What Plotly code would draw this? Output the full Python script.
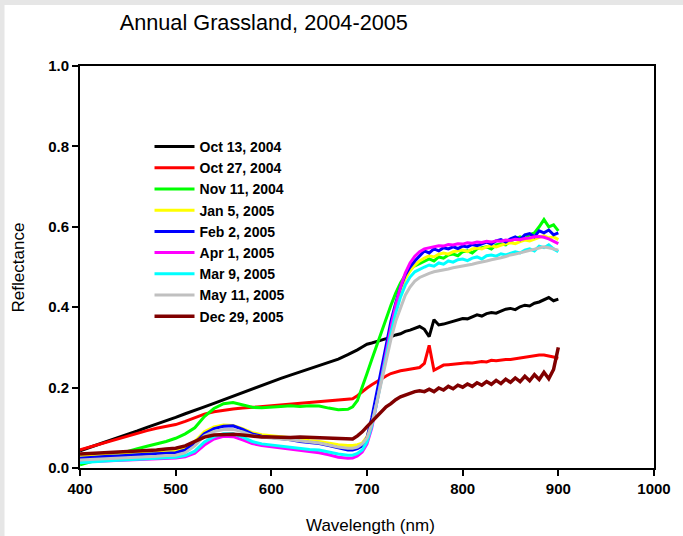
import plotly.graph_objects as go

wavelength = [400, 410, 420, 430, 440, 450, 460, 470, 480, 490, 500, 510, 520, 530, 540, 550, 560, 570, 580, 590,
              600, 610, 620, 630, 640, 650, 660, 670, 680, 685, 690, 695, 700, 705, 710, 715, 720, 725, 730, 735,
              740, 745, 750, 755, 760, 765, 770, 775, 780, 785, 790, 795, 800, 805, 810, 815, 820, 825, 830, 835,
              840, 845, 850, 855, 860, 865, 870, 875, 880, 885, 890, 895, 900]

oct13_2004 = [0.043, 0.051, 0.059, 0.067, 0.075, 0.084, 0.092, 0.101, 0.109, 0.117, 0.126, 0.135, 0.143, 0.152, 0.161, 0.170, 0.179, 0.188, 0.197, 0.206,
              0.215, 0.223, 0.231, 0.239, 0.247, 0.255, 0.263, 0.271, 0.282, 0.287, 0.294, 0.301, 0.308, 0.311, 0.314, 0.318, 0.322, 0.327, 0.331, 0.334,
              0.340, 0.343, 0.347, 0.352, 0.345, 0.327, 0.369, 0.356, 0.358, 0.362, 0.365, 0.368, 0.372, 0.371, 0.376, 0.381, 0.378, 0.384, 0.387, 0.385,
              0.390, 0.395, 0.397, 0.394, 0.401, 0.405, 0.403, 0.410, 0.413, 0.418, 0.424, 0.416, 0.420]

oct27_2004 = [0.045, 0.052, 0.059, 0.066, 0.073, 0.080, 0.087, 0.093, 0.099, 0.104, 0.108, 0.116, 0.126, 0.134, 0.140, 0.144, 0.147, 0.149, 0.151, 0.153,
              0.155, 0.157, 0.159, 0.161, 0.163, 0.165, 0.167, 0.169, 0.170, 0.172, 0.180, 0.190, 0.199, 0.207, 0.215, 0.223, 0.229, 0.235, 0.239, 0.242,
              0.244, 0.246, 0.247, 0.250, 0.260, 0.305, 0.243, 0.250, 0.256, 0.257, 0.258, 0.260, 0.261, 0.262, 0.261, 0.263, 0.265, 0.264, 0.268, 0.267,
              0.269, 0.270, 0.270, 0.272, 0.274, 0.276, 0.277, 0.279, 0.281, 0.281, 0.279, 0.276, 0.273]

nov11_2004 = [0.008, 0.015, 0.022, 0.028, 0.035, 0.042, 0.048, 0.054, 0.060, 0.066, 0.074, 0.085, 0.100, 0.128, 0.148, 0.160, 0.163, 0.157, 0.151, 0.150,
              0.151, 0.153, 0.155, 0.153, 0.155, 0.154, 0.149, 0.145, 0.146, 0.152, 0.168, 0.200, 0.235, 0.270, 0.305, 0.340, 0.370, 0.405, 0.435, 0.460,
              0.480, 0.495, 0.503, 0.508, 0.515, 0.520, 0.515, 0.525, 0.522, 0.530, 0.532, 0.528, 0.538, 0.540, 0.535, 0.545, 0.548, 0.550, 0.545, 0.555,
              0.558, 0.555, 0.565, 0.570, 0.575, 0.570, 0.580, 0.585, 0.600, 0.618, 0.600, 0.605, 0.590]

jan5_2005 = [0.028, 0.029, 0.031, 0.032, 0.033, 0.035, 0.036, 0.037, 0.038, 0.040, 0.042, 0.050, 0.066, 0.090, 0.102, 0.107, 0.106, 0.098, 0.088, 0.083,
             0.080, 0.078, 0.075, 0.072, 0.068, 0.066, 0.062, 0.058, 0.056, 0.056, 0.058, 0.062, 0.078, 0.120, 0.175, 0.235, 0.295, 0.350, 0.400, 0.440,
             0.470, 0.490, 0.505, 0.515, 0.522, 0.528, 0.525, 0.532, 0.535, 0.532, 0.538, 0.540, 0.542, 0.538, 0.545, 0.547, 0.545, 0.550, 0.553, 0.550,
             0.555, 0.558, 0.560, 0.558, 0.563, 0.567, 0.565, 0.570, 0.575, 0.578, 0.572, 0.575, 0.568]

feb2_2005 = [0.024, 0.026, 0.028, 0.029, 0.030, 0.032, 0.033, 0.034, 0.035, 0.036, 0.038, 0.045, 0.062, 0.085, 0.098, 0.104, 0.105, 0.096, 0.085, 0.079,
             0.076, 0.074, 0.070, 0.066, 0.063, 0.061, 0.056, 0.050, 0.045, 0.045, 0.048, 0.055, 0.075, 0.125, 0.185, 0.250, 0.310, 0.365, 0.410, 0.450,
             0.480, 0.500, 0.515, 0.528, 0.540, 0.535, 0.545, 0.540, 0.548, 0.545, 0.550, 0.546, 0.552, 0.550, 0.556, 0.553, 0.558, 0.562, 0.557, 0.565,
             0.568, 0.562, 0.570, 0.575, 0.568, 0.580, 0.583, 0.575, 0.590, 0.585, 0.592, 0.580, 0.585]

apr1_2005 = [0.015, 0.016, 0.017, 0.018, 0.019, 0.020, 0.021, 0.022, 0.023, 0.024, 0.025, 0.028, 0.037, 0.057, 0.072, 0.079, 0.078, 0.070, 0.061, 0.056,
             0.053, 0.050, 0.046, 0.043, 0.040, 0.038, 0.033, 0.027, 0.024, 0.025, 0.030, 0.040, 0.060, 0.100, 0.160, 0.225, 0.290, 0.350, 0.405, 0.450,
             0.485, 0.510, 0.527, 0.538, 0.545, 0.548, 0.550, 0.553, 0.552, 0.556, 0.555, 0.558, 0.557, 0.560, 0.559, 0.562, 0.561, 0.564, 0.562, 0.565,
             0.564, 0.567, 0.566, 0.569, 0.568, 0.571, 0.572, 0.575, 0.576, 0.574, 0.570, 0.563, 0.558]

mar9_2005 = [0.013, 0.015, 0.016, 0.018, 0.019, 0.021, 0.022, 0.023, 0.024, 0.026, 0.027, 0.031, 0.042, 0.065, 0.078, 0.085, 0.085, 0.077, 0.066, 0.060,
             0.057, 0.054, 0.051, 0.048, 0.046, 0.045, 0.040, 0.035, 0.032, 0.032, 0.036, 0.045, 0.065, 0.105, 0.160, 0.220, 0.280, 0.335, 0.385, 0.425,
             0.455, 0.475, 0.488, 0.495, 0.500, 0.505, 0.502, 0.510, 0.507, 0.515, 0.512, 0.518, 0.520, 0.516, 0.522, 0.525, 0.520, 0.528, 0.530, 0.527,
             0.533, 0.530, 0.535, 0.538, 0.535, 0.542, 0.545, 0.540, 0.552, 0.548, 0.555, 0.545, 0.538]

may11_2005 = [0.020, 0.021, 0.022, 0.024, 0.025, 0.026, 0.027, 0.028, 0.029, 0.031, 0.032, 0.038, 0.055, 0.080, 0.091, 0.096, 0.096, 0.090, 0.081, 0.077,
              0.074, 0.072, 0.070, 0.067, 0.065, 0.062, 0.057, 0.052, 0.049, 0.049, 0.052, 0.060, 0.075, 0.110, 0.160, 0.215, 0.270, 0.320, 0.365, 0.400,
              0.430, 0.450, 0.465, 0.474, 0.480, 0.484, 0.488, 0.490, 0.493, 0.495, 0.498, 0.500, 0.503, 0.505, 0.507, 0.510, 0.512, 0.515, 0.518, 0.520,
              0.523, 0.526, 0.530, 0.532, 0.535, 0.538, 0.540, 0.543, 0.546, 0.550, 0.548, 0.545, 0.542]

dec29_2005 = [0.035, 0.036, 0.037, 0.038, 0.040, 0.041, 0.043, 0.044, 0.045, 0.047, 0.049, 0.055, 0.066, 0.077, 0.082, 0.084, 0.084, 0.082, 0.079, 0.077,
              0.077, 0.076, 0.076, 0.077, 0.076, 0.076, 0.074, 0.072, 0.071, 0.072, 0.080, 0.090, 0.103, 0.115, 0.130, 0.142, 0.152, 0.160, 0.170, 0.177,
              0.182, 0.186, 0.190, 0.192, 0.190, 0.196, 0.190, 0.199, 0.194, 0.203, 0.197, 0.206, 0.201, 0.209, 0.203, 0.212, 0.206, 0.215, 0.208, 0.218,
              0.210, 0.221, 0.213, 0.224, 0.215, 0.228, 0.217, 0.232, 0.220, 0.238, 0.222, 0.245, 0.300]

series_names = ["Oct 13, 2004", "Oct 27, 2004", "Nov 11, 2004", "Jan 5, 2005", "Feb 2, 2005",
                "Apr 1, 2005", "Mar 9, 2005", "May 11, 2005", "Dec 29, 2005"]
series_values = [oct13_2004, oct27_2004, nov11_2004, jan5_2005, feb2_2005,
                 apr1_2005, mar9_2005, may11_2005, dec29_2005]
series_colors = ["#000000", "#ff0000", "#00ff00", "#ffff00", "#0000ff",
                 "#ff00ff", "#00ffff", "#c0c0c0", "#800000"]
series_widths = [3, 3, 3, 3, 3, 3, 3, 3, 3.5]

x_ticks = [400, 500, 600, 700, 800, 900, 1000]
y_ticks = [0.0, 0.2, 0.4, 0.6, 0.8, 1.0]

FONT = "Arial, 'Liberation Sans', sans-serif"

fig = go.Figure()
for i, (name, vals, col, lw) in enumerate(zip(series_names, series_values, series_colors, series_widths)):
    fig.add_trace(go.Scatter(
        x=wavelength, y=vals, mode="lines", name=name,
        legendgroup="g%d" % i,
        line=dict(color=col, width=lw),
    ))

L, R, T, B = 80, 25, 66, 68
W, H = 683, 536
pw, ph = W - L - R, H - T - B

fig.update_layout(
    width=W, height=H,
    margin=dict(l=L, r=R, t=T, b=B),
    paper_bgcolor="#e6e6e6",
    plot_bgcolor="white",
    font=dict(family=FONT, color="black"),
    showlegend=True,
    legend=dict(
        x=(150 - L) / pw, y=(H - B - 131) / ph, xanchor="left", yanchor="top",
        bgcolor="rgba(0,0,0,0)", borderwidth=0,
        font=dict(family=FONT, size=14, color="black", weight="bold"),
        tracegroupgap=0, itemwidth=40,
    ),
    title=dict(
        text="Annual Grassland, 2004-2005",
        font=dict(family=FONT, size=21.7, color="black"),
        xref="paper", x=(120 - L) / pw, xanchor="left",
        yref="container", y=1 - 22 / H, yanchor="middle",
    ),
    shapes=[dict(
        type="rect", xref="paper", yref="paper", layer="below",
        x0=(4 - L) / pw, x1=(W + 5 - L) / pw,
        y0=(H - B - H - 5) / ph, y1=(H - B - 5) / ph,
        fillcolor="white", line=dict(width=0),
    )],
    annotations=[
        dict(text="Wavelength (nm)", xref="paper", yref="paper",
             x=(373 - L) / pw, y=(H - B - 525) / ph, xanchor="center", yanchor="middle",
             showarrow=False, font=dict(family=FONT, size=17, color="black")),
        dict(text="Reflectance", xref="paper", yref="paper",
             x=(18 - L) / pw, y=(H - B - 267) / ph, xanchor="center", yanchor="middle",
             textangle=-90, showarrow=False, font=dict(family=FONT, size=17, color="black")),
    ],
)

fig.update_xaxes(
    range=[400, 1000], tickvals=x_ticks, ticktext=[str(v) for v in x_ticks],
    ticks="outside", ticklen=6, tickwidth=1.5, tickcolor="black",
    showline=True, linecolor="black", linewidth=2, mirror=True,
    showgrid=False, zeroline=False,
    tickfont=dict(family=FONT, size=15, color="black", weight="bold"),
)
fig.update_yaxes(
    range=[0, 1], tickvals=y_ticks, ticktext=["%.1f" % v for v in y_ticks],
    ticks="outside", ticklen=6, tickwidth=1.5, tickcolor="black",
    showline=True, linecolor="black", linewidth=2, mirror=True,
    showgrid=False, zeroline=False,
    tickfont=dict(family=FONT, size=15, color="black", weight="bold"),
)

fig.write_html("out.html")
